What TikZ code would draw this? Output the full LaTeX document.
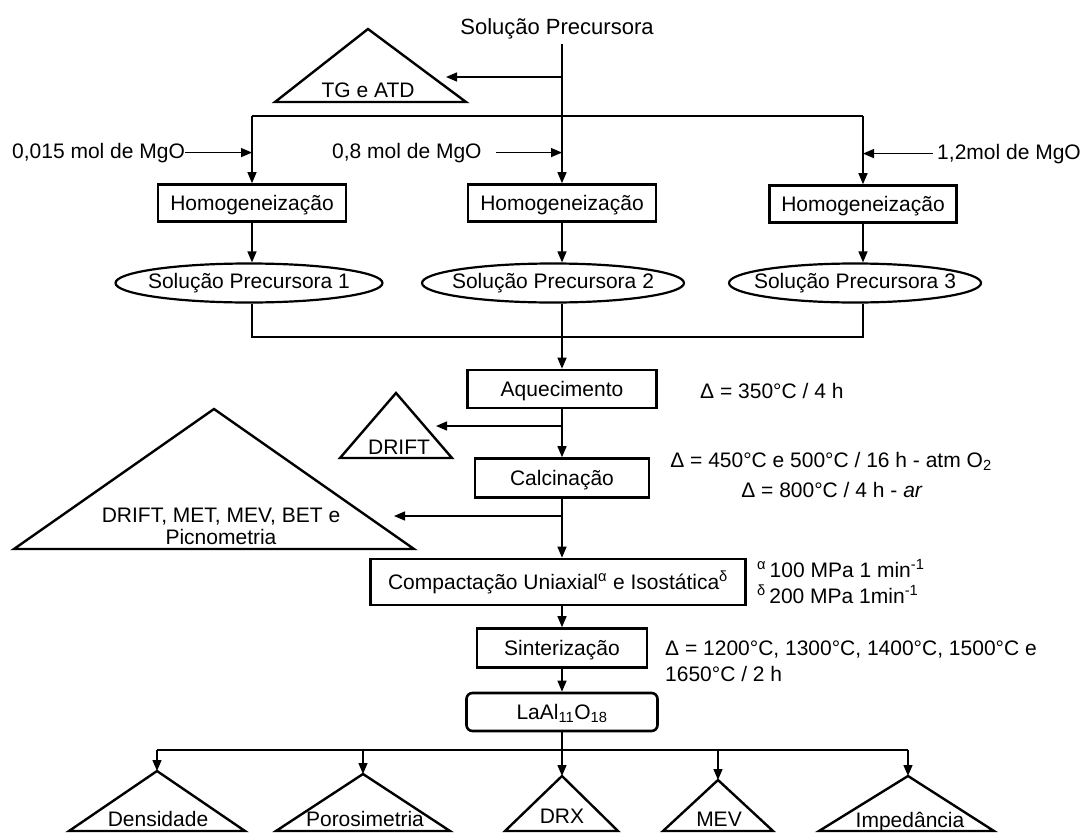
\documentclass[tikz,border=0pt]{standalone}
\usepackage{fontspec}
\setmainfont{Liberation Sans}
\usetikzlibrary{arrows.meta,shapes.geometric}
\newcommand{\fs}{\fontsize{21}{24}\selectfont}
\begin{document}
\begin{tikzpicture}[x=1pt,y=-1pt,
 box/.style={draw, line width=2.6pt, inner sep=0pt, minimum height=37pt, font=\fs, text height=15pt, text depth=1pt},
 ell/.style={draw, ellipse, line width=2.2pt, inner sep=0pt, minimum height=39pt, font=\fs},
 tri/.style={draw, line width=2.4pt, line join=miter},
 ln/.style={line width=1.4pt},
 arr/.style={ln, -{Triangle[length=11pt,width=9pt]}},
 lbl/.style={inner sep=0pt, font=\fs, anchor=base},
 lblw/.style={lbl, anchor=base west},
]
\useasboundingbox (0,0) rectangle (1085,833);

% title and first analysis
\node[lbl, font=\fontsize{22}{24}\selectfont] (title) at (557,34) {Solução Precursora};
\coordinate (t0) at (562,44);
\draw[tri] (368,29) -- (466,102) -- (275,102) -- cycle;
\node[lbl] (tg) at (368,97) {TG e ATD};
\coordinate (j1) at (562,77);
\coordinate (tgtip) at (446,77);
\draw[arr] (j1) -- (tgtip);

% homogenization boxes
\node[box, minimum width=188pt] (b1) at (252,203) {Homogeneização};
\node[box, minimum width=188pt] (b2) at (562,203) {Homogeneização};
\node[box, minimum width=187pt] (b3) at (863,204) {Homogeneização};
\draw[arr] (t0) -- (b2.north);
\coordinate (dl) at (252,116);
\coordinate (dr) at (863,116);
\draw[ln] (dl) -- (dr);
\draw[arr] (dl) -- (b1.north);
\draw[arr] (dr) -- (b3.north);

% MgO inputs
\node[lblw] (m1) at (12,158) {0,015 mol de MgO};
\draw[arr] (m1.east) -- (m1.east -| dl);
\node[lblw] (m2) at (332,158) {0,8 mol de MgO};
\draw[arr, shorten <=14pt] (m2.east) -- (m2.east -| t0);
\node[lbl, anchor=base east] (m3) at (1081,159) {1,2mol de MgO};
\draw[arr, shorten <=4pt] (m3.west) -- (m3.west -| dr);

% precursor solutions
\node[ell, minimum width=267pt] (e1) at (249,283) {\makebox[0pt]{Solução Precursora 1}};
\node[ell, minimum width=262pt] (e2) at (553,283) {\makebox[0pt]{Solução Precursora 2}};
\node[ell, minimum width=252pt] (e3) at (855,283) {\makebox[0pt]{Solução Precursora 3}};
\draw[arr] (b1.south) -- (b1.south |- e1.north);
\draw[arr] (b2.south) -- (b2.south |- e2.north);
\draw[arr] (b3.south) -- (b3.south |- e3.north);
\coordinate (cl) at (252,337);
\coordinate (cr) at (863,337);
\draw[ln] (e1.south -| cl) -- (cl) -- (cr) -- (e3.south -| cr);

% heating
\node[box, minimum width=189pt, minimum height=38pt] (aq) at (562,389) {Aquecimento};
\draw[arr] (e2.south -| aq) -- (aq.north);
\node[lblw] (a1) at (700,398) {Δ = 350°C / 4 h};

\draw[tri] (396,393) -- (452,458) -- (340,458) -- cycle;
\node[lbl] (dr1) at (399,454) {DRIFT};
\coordinate (j2) at (562,426);
\coordinate (drtip) at (436,426);
\draw[arr] (j2) -- (drtip);

% calcination
\node[box, minimum width=174pt, minimum height=39pt] (ca) at (562,478) {Calcinação};
\draw[arr] (aq) -- (ca);
\node[lbl] (a2) at (831,467) {Δ = 450°C e 500°C / 16 h - atm O\textsubscript{2}};
\node[lbl] (a3) at (832,497) {Δ = 800°C / 4 h - \textit{ar}};

\draw[tri] (214,409) -- (414,549) -- (14,549) -- cycle;
\node[lbl] (bt1) at (221,522) {DRIFT, MET, MEV, BET e};
\node[lbl] (bt2) at (221,544) {Picnometria};
\coordinate (j3) at (562,516);
\coordinate (bttip) at (394,516);
\draw[arr] (j3) -- (bttip);

% compaction
\node[box, minimum width=375pt, minimum height=46pt] (co) at (558,582) {Compactação Uniaxial\textsuperscript{α} e Isostática\textsuperscript{δ}};
\draw[arr] (ca.south) -- (ca.south |- co.north);
\node[lblw] (a4) at (757,577) {\textsuperscript{α}\,100 MPa 1 min\textsuperscript{-1}};
\node[lblw] (a5) at (757,603) {\textsuperscript{δ}\,200 MPa 1min\textsuperscript{-1}};

% sintering
\node[box, minimum width=170pt, minimum height=39pt] (si) at (562,648) {Sinterização};
\draw[arr] (co.south -| si) -- (si.north);
\node[lblw] (a6) at (665,655) {Δ = 1200°C, 1300°C, 1400°C, 1500°C e};
\node[lblw] (a7) at (665,681) {1650°C / 2 h};

% product
\node[box, rounded corners=6pt, minimum width=191pt, minimum height=38pt] (la) at (562,712) {LaAl\textsubscript{11}O\textsubscript{18}};
\draw[arr] (si.south) -- (la.north);

% characterisation
\coordinate (bl) at (157,750);
\coordinate (br) at (908,750);
\draw[ln] (bl) -- (br);
\coordinate (p1) at (157,771);
\coordinate (p2) at (363,774);
\coordinate (p3) at (562,776);
\coordinate (p4) at (718,780);
\coordinate (p5) at (908,776);
\draw[tri] (p1) -- (245,831) -- (69,831) -- cycle;
\draw[tri] (p2) -- (450,831) -- (276,831) -- cycle;
\draw[tri] (p3) -- (618,831) -- (505,831) -- cycle;
\draw[tri] (p4) -- (773,831) -- (663,831) -- cycle;
\draw[tri] (p5) -- (994,831) -- (819,831) -- cycle;
\node[lbl] (t1) at (158,826) {Densidade};
\node[lbl] (t2) at (365,826) {Porosimetria};
\node[lbl] (t3) at (562,823) {DRX};
\node[lbl] (t4) at (719,826) {MEV};
\node[lbl] (t5) at (910,827) {Impedância};
\draw[arr] (bl) -- (p1);
\draw[arr] (bl -| p2) -- (p2);
\draw[arr] (la.south) -- (p3);
\draw[arr] (bl -| p4) -- (p4);
\draw[arr] (br) -- (p5);
\end{tikzpicture}
\end{document}
